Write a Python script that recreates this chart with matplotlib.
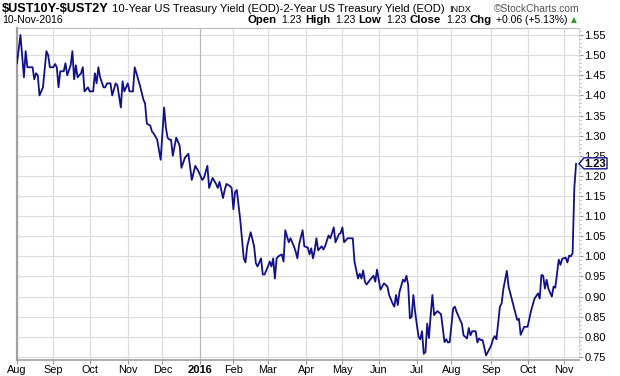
import numpy as np
import pandas as pd
import matplotlib
matplotlib.use('Agg')
import matplotlib.pyplot as plt
from matplotlib.patches import Polygon
from matplotlib.transforms import IdentityTransform, blended_transform_factory

plt.rcParams['font.family'] = ['Liberation Sans', 'DejaVu Sans']

# 10y - 2y spread (trading days)
dates_2015 = [
    '2015-08-03', '2015-08-05', '2015-08-07', '2015-08-10', '2015-08-11', '2015-08-14', '2015-08-17',
    '2015-08-18', '2015-08-19', '2015-08-20', '2015-08-24', '2015-08-26', '2015-08-27', '2015-08-28',
    '2015-09-01', '2015-09-02', '2015-09-03', '2015-09-04', '2015-09-08', '2015-09-10', '2015-09-11',
    '2015-09-14', '2015-09-16', '2015-09-17', '2015-09-18', '2015-09-21', '2015-09-22', '2015-09-24',
    '2015-09-25', '2015-09-28', '2015-09-30',
    '2015-10-01', '2015-10-05', '2015-10-06', '2015-10-07', '2015-10-08', '2015-10-09', '2015-10-13',
    '2015-10-14', '2015-10-15', '2015-10-19', '2015-10-20', '2015-10-22', '2015-10-23', '2015-10-27',
    '2015-10-28', '2015-10-29',
    '2015-11-02', '2015-11-03', '2015-11-05', '2015-11-06', '2015-11-11', '2015-11-13', '2015-11-16',
    '2015-11-17', '2015-11-19', '2015-11-20', '2015-11-23', '2015-11-25', '2015-11-30',
    '2015-12-02', '2015-12-03', '2015-12-04', '2015-12-07', '2015-12-08', '2015-12-09', '2015-12-11',
    '2015-12-15', '2015-12-16', '2015-12-18', '2015-12-22', '2015-12-24', '2015-12-29', '2015-12-31',
]
spread_2015 = [
    1.48, 1.55, 1.445, 1.51, 1.47, 1.47, 1.44,
    1.455, 1.45, 1.40, 1.42, 1.51, 1.50, 1.47,
    1.47, 1.478, 1.47, 1.42, 1.46, 1.46, 1.48,
    1.45, 1.475, 1.51, 1.44, 1.475, 1.445, 1.455,
    1.47, 1.41, 1.42,
    1.41, 1.41, 1.455, 1.43, 1.47, 1.445, 1.42,
    1.42, 1.43, 1.43, 1.40, 1.43, 1.425, 1.37,
    1.435, 1.41,
    1.43, 1.41, 1.41, 1.47, 1.425, 1.39, 1.38,
    1.33, 1.325, 1.31, 1.305, 1.29, 1.24,
    1.37, 1.32, 1.295, 1.29, 1.29, 1.25, 1.295,
    1.275, 1.22, 1.245, 1.255, 1.19, 1.225, 1.21,
]

dates_2016 = [
    '2016-01-05', '2016-01-06', '2016-01-08', '2016-01-11', '2016-01-13', '2016-01-15', '2016-01-19',
    '2016-01-20', '2016-01-22', '2016-01-25', '2016-01-26', '2016-01-28', '2016-01-29',
    '2016-02-01', '2016-02-02', '2016-02-03', '2016-02-05', '2016-02-09', '2016-02-10', '2016-02-11',
    '2016-02-16', '2016-02-18', '2016-02-19', '2016-02-22', '2016-02-24', '2016-02-25', '2016-02-26',
    '2016-03-01', '2016-03-02', '2016-03-03', '2016-03-04', '2016-03-07', '2016-03-08', '2016-03-09',
    '2016-03-11', '2016-03-14', '2016-03-15', '2016-03-17', '2016-03-18', '2016-03-22', '2016-03-23',
    '2016-03-24', '2016-03-28', '2016-03-30', '2016-03-31',
    '2016-04-04', '2016-04-05', '2016-04-06', '2016-04-07', '2016-04-08', '2016-04-11', '2016-04-12',
    '2016-04-14', '2016-04-15', '2016-04-18', '2016-04-20', '2016-04-21', '2016-04-22', '2016-04-25',
    '2016-04-26', '2016-04-28', '2016-04-29',
    '2016-05-02', '2016-05-03', '2016-05-05', '2016-05-09', '2016-05-10', '2016-05-11', '2016-05-13',
    '2016-05-16', '2016-05-17', '2016-05-18', '2016-05-19', '2016-05-20', '2016-05-24', '2016-05-26',
    '2016-05-27', '2016-05-31',
    '2016-06-02', '2016-06-06', '2016-06-08', '2016-06-09', '2016-06-13', '2016-06-14', '2016-06-15',
    '2016-06-16', '2016-06-17', '2016-06-21', '2016-06-22', '2016-06-23', '2016-06-24', '2016-06-27',
    '2016-06-28', '2016-06-29', '2016-06-30',
    '2016-07-05', '2016-07-06', '2016-07-07', '2016-07-08', '2016-07-11', '2016-07-12', '2016-07-13',
    '2016-07-14', '2016-07-15', '2016-07-18', '2016-07-19', '2016-07-20', '2016-07-22', '2016-07-26',
    '2016-07-27', '2016-07-28', '2016-07-29',
    '2016-08-02', '2016-08-03', '2016-08-04', '2016-08-08', '2016-08-09', '2016-08-10', '2016-08-12',
    '2016-08-15', '2016-08-16', '2016-08-17', '2016-08-19', '2016-08-22', '2016-08-23', '2016-08-24',
    '2016-08-25', '2016-08-29', '2016-08-30',
    '2016-09-01', '2016-09-02', '2016-09-06', '2016-09-07', '2016-09-09', '2016-09-12', '2016-09-13',
    '2016-09-15', '2016-09-16', '2016-09-19', '2016-09-21', '2016-09-23', '2016-09-26', '2016-09-27',
    '2016-09-29',
    '2016-10-03', '2016-10-05', '2016-10-06', '2016-10-07', '2016-10-11', '2016-10-12', '2016-10-13',
    '2016-10-14', '2016-10-17', '2016-10-18', '2016-10-19', '2016-10-21', '2016-10-24', '2016-10-25',
    '2016-10-26', '2016-10-27', '2016-10-28', '2016-10-31',
    '2016-11-02', '2016-11-03', '2016-11-04', '2016-11-07', '2016-11-08', '2016-11-09', '2016-11-10',
]
spread_2016 = [
    1.19, 1.195, 1.225, 1.17, 1.195, 1.18, 1.17,
    1.185, 1.145, 1.165, 1.18, 1.175, 1.17,
    1.117, 1.16, 1.165, 1.09, 0.995, 0.985, 1.025,
    1.06, 1.025, 0.983, 0.975, 0.995, 0.955, 0.955,
    0.975, 0.987, 0.975, 0.995, 0.945, 0.995, 1.0,
    1.005, 0.987, 1.065, 1.035, 1.045, 1.025, 1.012,
    0.995, 1.03, 1.065, 1.025,
    1.022, 1.005, 1.02, 0.995, 1.015, 1.045, 1.015,
    1.025, 1.017, 1.025, 1.052, 1.045, 1.058, 1.072,
    1.035, 1.055, 1.058,
    1.072, 1.035, 1.045, 1.045, 1.045, 0.987, 0.945,
    0.957, 0.945, 0.965, 0.937, 0.93, 0.942, 0.952,
    0.937, 0.967,
    0.917, 0.933, 0.925, 0.904, 0.883, 0.875, 0.904,
    0.879, 0.912, 0.942, 0.937, 0.952, 0.929, 0.846,
    0.85, 0.904, 0.862,
    0.80, 0.794, 0.814, 0.758, 0.762, 0.833, 0.797,
    0.854, 0.904, 0.854, 0.86, 0.864, 0.856, 0.787,
    0.794, 0.786, 0.787,
    0.871, 0.875, 0.862, 0.842, 0.833, 0.804, 0.796,
    0.822, 0.804, 0.814, 0.814, 0.786, 0.796, 0.792,
    0.792, 0.754, 0.762,
    0.779, 0.794, 0.802, 0.794, 0.875, 0.883, 0.919,
    0.964, 0.925, 0.908, 0.875, 0.842, 0.845, 0.805,
    0.825,
    0.825, 0.865, 0.88, 0.895, 0.908, 0.895, 0.954,
    0.952, 0.92, 0.942, 0.92, 0.90, 0.925, 0.922,
    0.958, 0.992, 0.979, 0.994,
    0.997, 0.985, 1.002, 1.0, 1.008, 1.17, 1.23,
]

market_holidays = ['2015-09-07', '2015-11-26', '2015-12-25', '2016-01-01', '2016-01-18',
                   '2016-02-15', '2016-03-25', '2016-05-30', '2016-07-04', '2016-09-05']
month_labels = ['Aug', 'Sep', 'Oct', 'Nov', 'Dec', '2016', 'Feb', 'Mar', 'Apr', 'May',
                'Jun', 'Jul', 'Aug', 'Sep', 'Oct', 'Nov']
y_ticks = np.round(np.arange(0.75, 1.551, 0.05), 2)

# trading-day axis (StockCharts skips weekends/holidays)
sessions = pd.bdate_range('2015-08-03', '2016-11-10').difference(pd.to_datetime(market_holidays))
x = sessions.get_indexer(pd.to_datetime(dates_2015 + dates_2016))
y = spread_2015 + spread_2016
sess_idx = pd.Series(np.arange(len(sessions)), index=sessions)
month_starts = sess_idx.groupby(sessions.to_period('M')).first().values

W, H = 620, 376
fig = plt.figure(figsize=(W / 100, H / 100), dpi=100)
ax = fig.add_axes([17 / W, 1 - 360 / H, 562 / W, 332 / H])

navy = '#10108a'
ax.plot(x, y, color=navy, lw=1.3, zorder=3, solid_joinstyle='round')

ax.set_xlim(0, 324.7)
ax.set_ylim(0.7425, 1.5675)

# grid
for v in y_ticks:
    ax.axhline(v, color='#dddddd', lw=0.9, zorder=1)
for i, m in enumerate(month_starts):
    c = '#b8b8b8' if month_labels[i] == '2016' else '#dddddd'
    ax.axvline(m, color=c, lw=0.9, zorder=1)

ax.set_xticks(month_starts)
ax.set_xticklabels(month_labels, fontsize=7.8)
for lbl in ax.get_xticklabels():
    if lbl.get_text() == '2016':
        lbl.set_fontweight('bold')
        lbl.set_fontsize(8)
ax.tick_params(axis='x', length=3, pad=0.5, color='#999999')

ax.yaxis.tick_right()
ax.set_yticks(y_ticks)
ax.set_yticklabels([f'{v:.2f}' for v in y_ticks], fontsize=8)
ax.set_yticks(np.round(np.arange(0.75, 1.561, 0.01), 2), minor=True)
ax.tick_params(axis='y', which='major', length=3, pad=1, color='#999999')
ax.tick_params(axis='y', which='minor', length=1.5, color='#aaaaaa')

ax.spines['left'].set_color('#a0a0a0')
ax.spines['left'].set_linewidth(1.6)
ax.spines['bottom'].set_color('#a0a0a0')
ax.spines['bottom'].set_linewidth(1.2)
ax.spines['top'].set_color('#bbbbbb')
ax.spines['right'].set_color('#cccccc')
ax.spines['right'].set_linestyle((0, (1, 2)))

# last value tag on the right axis
trans = blended_transform_factory(ax.transAxes, ax.transData)
px, py = trans.transform((1.0, y[-1]))
tag = Polygon([(px, py), (px + 5, py + 6), (px + 28, py + 6), (px + 28, py - 5), (px + 5, py - 5)],
              closed=True, facecolor='white', edgecolor=navy, lw=1.0,
              transform=IdentityTransform(), zorder=5)
fig.add_artist(tag)
fig.text(px + 16.5, py, f'{y[-1]:.2f}', transform=IdentityTransform(), ha='center', va='center',
         fontsize=8, fontweight='bold', color='black', zorder=6)

renderer = fig.canvas.get_renderer()
line1_y = H - 9
line2_y = H - 20

# header line 1, pieces placed one after another
t = fig.text(2, line1_y, r'\$UST10Y-\$UST2Y', transform=IdentityTransform(),
             fontsize=9.2, fontweight='bold', va='center', ha='left')
xpos = t.get_window_extent(renderer).x1 + 3
t = fig.text(xpos, line1_y, '10-Year US Treasury Yield (EOD)-2-Year US Treasury Yield (EOD)',
             transform=IdentityTransform(), fontsize=8.1, va='center', ha='left')
xpos = t.get_window_extent(renderer).x1 + 5
fig.text(xpos, line1_y, 'INDX', transform=IdentityTransform(), fontsize=6.6, va='center', ha='left')
fig.text(579, line1_y, '\u00a9StockCharts.com', transform=IdentityTransform(),
         fontsize=7.4, va='center', ha='right', color='#555555')

# header line 2
fig.text(2, line2_y, '10-Nov-2016', transform=IdentityTransform(), fontsize=7.6, va='center', ha='left')
pieces = [('Open', True), ('1.23', False), ('High', True), ('1.23', False), ('Low', True),
          ('1.23', False), ('Close', True), ('1.23', False), ('Chg', True), ('+0.06 (+5.13%)', False)]
xpos = 568
for text, bold in reversed(pieces):
    t = fig.text(xpos, line2_y, text, transform=IdentityTransform(), va='center', ha='right',
                 fontsize=8.2 if bold else 7.5, fontweight='bold' if bold else 'normal')
    xpos = t.get_window_extent(renderer).x0 - (5 if not bold else 3)
fig.text(574, line2_y, '\u25b2', transform=IdentityTransform(), ha='center', va='center',
         fontsize=5.5, color='#2e9e2e', family='DejaVu Sans')

fig.savefig('out.png', dpi=100)
